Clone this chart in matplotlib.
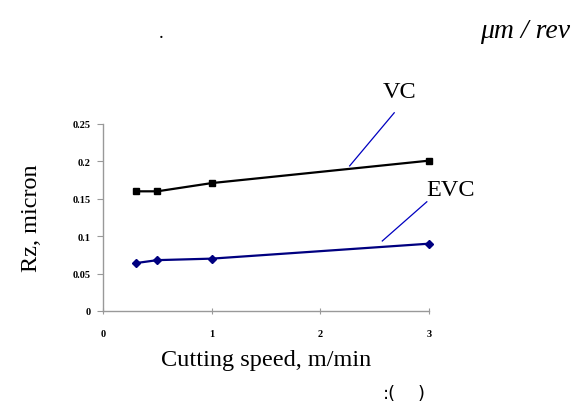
import matplotlib
matplotlib.use("Agg")
import matplotlib.pyplot as plt

# ──────────────────────────────────────────────
# Data
# ──────────────────────────────────────────────
speed = [0.3, 0.5, 1.0, 3.0]
rz_vc = [0.160, 0.160, 0.171, 0.201]
rz_evc = [0.064, 0.068, 0.070, 0.090]

x_ticks = [0, 1, 2, 3]
y_ticks = [0, 0.05, 0.1, 0.15, 0.2, 0.25]
y_tick_labels = ["0", "0.05", "0.1", "0.15", "0.2", "0.25"]

SERIF = "Liberation Serif"
W, H = 580, 406

fig = plt.figure(figsize=(W / 100, H / 100), dpi=100)
ax = fig.add_axes([103 / W, 1 - 312 / H, (429 - 103) / W, (312 - 125) / H])

ax.plot(speed, rz_vc, color="black", lw=1.6, marker="s", ms=4.8,
        clip_on=False, zorder=3)
ax.plot(speed, rz_evc, color="#000080", lw=1.6, marker="D", ms=4.2,
        clip_on=False, zorder=3)

ax.set_xlim(0, 3)
ax.set_ylim(0, 0.25)
ax.set_xticks(x_ticks)
ax.set_yticks(y_ticks)
ax.set_yticklabels(y_tick_labels)

for s in ["top", "right"]:
    ax.spines[s].set_visible(False)
for s in ["left", "bottom"]:
    ax.spines[s].set_color("#999999")
    ax.spines[s].set_linewidth(1.0)

ax.tick_params(axis="y", direction="out", length=4, width=0.8,
               color="#999999", pad=5)
ax.tick_params(axis="x", direction="inout", length=4, width=0.8,
               color="#999999", pad=11)
for lab in ax.get_xticklabels() + ax.get_yticklabels():
    lab.set_fontfamily(SERIF)
    lab.set_fontweight("bold")
    lab.set_fontsize(7.5)

ax.set_xlabel("Cutting speed, m/min", fontfamily=SERIF, fontsize=17.5,
              labelpad=8)
ax.set_ylabel("Rz, micron", fontfamily=SERIF, fontsize=17.5, labelpad=22)

# leader lines + series names
ax.plot([2.27, 2.68], [0.194, 0.265], color="#0000c0", lw=0.9,
        clip_on=False)
ax.text(2.73, 0.294, "VC", fontfamily=SERIF, fontsize=17.5,
        ha="center", va="center")
ax.plot([2.57, 2.98], [0.0936, 0.146], color="#0000c0", lw=0.9,
        clip_on=False)
ax.text(3.20, 0.163, "EVC", fontfamily=SERIF, fontsize=17.5,
        ha="center", va="center", clip_on=False)

# stray text from the surrounding page
fig.text(161 / W, 1 - 33 / H, ".", fontfamily=SERIF, fontsize=14,
         ha="center", va="center")
fig.text(525 / W, 1 - 32 / H, "μm / rev", fontfamily=SERIF,
         fontstyle="italic", fontsize=20, ha="center", va="center")
fig.text(389 / W, 1 - 394 / H, ":(", fontfamily="DejaVu Sans",
         fontsize=13, ha="center", va="center")
fig.text(421 / W, 1 - 394 / H, ")", fontfamily="DejaVu Sans",
         fontsize=13, ha="center", va="center")

fig.savefig("out.png", dpi=100)
